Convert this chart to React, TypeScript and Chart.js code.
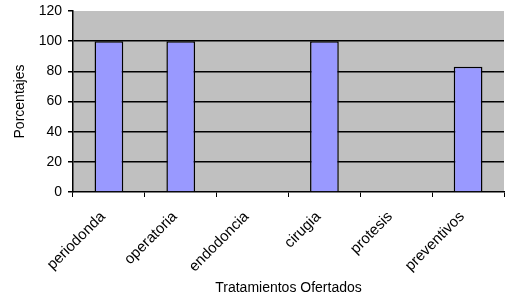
import React, { useEffect, useRef } from "react";
import { Chart, registerables } from "chart.js";

Chart.register(...registerables);

const categories = ["periodonda", "operatoria", "endodoncia", "cirugia", "protesis", "preventivos"];
const values = [100, 100, 0, 100, 0, 83];
const yTicks = [0, 20, 40, 60, 80, 100, 120];

const FONT = "'Liberation Sans', Arial, sans-serif";

const bgPlugin = {
  id: "plotBg",
  beforeDraw(chart: any) {
    const { ctx, chartArea } = chart;
    ctx.save();
    ctx.fillStyle = "#c0c0c0";
    ctx.fillRect(chartArea.left, chartArea.top, chartArea.right - chartArea.left, chartArea.bottom - chartArea.top);
    ctx.restore();
  },
};

export default function App() {
  const ref = useRef<HTMLCanvasElement | null>(null);
  useEffect(() => {
    if (!ref.current) return;
    const chart = new Chart(ref.current, {
      type: "bar",
      data: {
        labels: categories,
        datasets: [
          {
            data: values,
            backgroundColor: "#9999ff",
            borderColor: "#000000",
            borderWidth: 1.5,
            borderSkipped: "start",
            categoryPercentage: 1,
            barPercentage: 0.4,
          },
        ],
      },
      options: {
        responsive: false,
        animation: false,
        devicePixelRatio: 1,
        layout: { padding: { top: 11, right: 6, left: 0, bottom: 0 } },
        plugins: { legend: { display: false }, tooltip: { enabled: false } },
        scales: {
          x: {
            grid: {
              offset: true,
              drawOnChartArea: false,
              color: "#000000",
              tickLength: 5,
            },
            border: { display: true, color: "#000000", width: 1.5 },
            ticks: {
              color: "#000000",
              font: { family: FONT, size: 15 },
              minRotation: 45,
              maxRotation: 45,
              padding: 11,
              labelOffset: -6,
              autoSkip: false,
            },
            title: {
              display: true,
              text: "Tratamientos Ofertados",
              color: "#000000",
              font: { family: FONT, size: 14 },
              padding: { top: 4, bottom: 4 },
            },
            afterFit(scale: any) {
              scale.height = 109;
              scale.paddingLeft = 0;
              scale.paddingRight = 0;
            },
          },
          y: {
            min: 0,
            max: 120,
            afterBuildTicks(scale: any) {
              scale.ticks = yTicks.map((v) => ({ value: v }));
            },
            grid: {
              color: (ctx: any) =>
                ctx.tick && (ctx.tick.value === 0 || ctx.tick.value === 120) ? "rgba(0,0,0,0)" : "#000000",
              tickColor: "#000000",
              tickLength: 5,
              lineWidth: 1.5,
            },
            border: { display: true, color: "#000000", width: 1.5 },
            ticks: {
              color: "#000000",
              font: { family: FONT, size: 14 },
              padding: 6,
            },
            title: {
              display: true,
              text: "Porcentajes",
              color: "#000000",
              font: { family: FONT, size: 14 },
              padding: { top: 12, bottom: 0 },
            },
            afterFit(scale: any) {
              scale.width = 73;
              scale.paddingTop = 0;
              scale.paddingBottom = 0;
            },
          },
        },
      },
      plugins: [bgPlugin],
    } as any);
    return () => chart.destroy();
  }, []);
  return (
    <div style={{ position: "absolute", left: 0, top: 0, width: 510, height: 301 }}>
      <canvas ref={ref} width={510} height={301} />
    </div>
  );
}
